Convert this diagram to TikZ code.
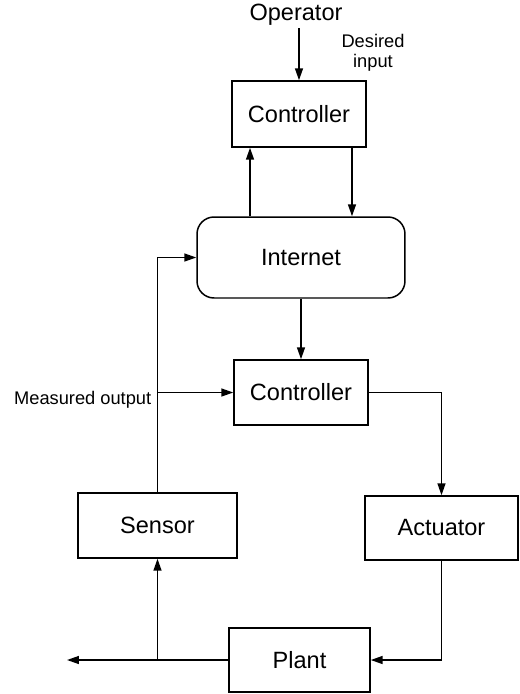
\documentclass[tikz,border=0pt]{standalone}
\usepackage{fontspec}
\setmainfont{Liberation Sans}
\usetikzlibrary{arrows.meta, positioning}

\begin{document}
\begin{tikzpicture}[x=0.02cm,y=-0.02cm,>={Triangle[length=2.4mm,width=1.6mm]},
  line width=0.85pt,
  block/.style={rectangle,draw,minimum width=2.68cm,minimum height=1.3cm,inner sep=0pt,
    font=\fontsize{13.4}{16}\selectfont},
  small text/.style={font=\fontsize{10.4}{11.4}\selectfont,inner sep=0pt}]

  \useasboundingbox (0,0) rectangle (520,694);

  \node[font=\fontsize{13.4}{16}\selectfont,inner sep=1pt] (op) at (296,15) {Operator};
  \node[small text,align=center] (desired) at (373,53) {Desired\\input};

  \node[block, minimum height=1.32cm] (ctrlA) at (299,114) {Controller};
  \node[block, rounded corners=0.34cm, minimum width=4.16cm, minimum height=1.62cm] (net) at (301,257.5) {Internet};
  \node[block] (ctrlB) at (301,392.5) {Controller};
  \node[block, minimum width=3.18cm] (sensor) at (157.5,525.5) {Sensor};
  \node[block, minimum width=3.06cm, minimum height=1.28cm] (act) at (441.5,528) {Actuator};
  \node[block, minimum width=2.82cm, minimum height=1.28cm] (plant) at (299.5,660) {Plant};

  \node[small text, anchor=east] (meas) at (152,400) {Measured output};
  \coordinate (out) at (67,660);

  \draw[->] (op.south -| ctrlA.north) -- (ctrlA.north);
  \draw[->] ([xshift=-1.02cm]net.north) -- ([xshift=-1.02cm]net.north |- ctrlA.south);
  \draw[->] ([xshift=1.06cm]ctrlA.south) -- ([xshift=1.06cm]ctrlA.south |- net.north);
  \draw[->] (net.south) -- (ctrlB.north);
  \draw[->] (ctrlB.east) -| (act.north);
  \draw[->] (act.south) |- (plant.east);
  \draw[->] (plant.west) -- (out);
  \draw[->] (plant.west -| sensor.south) -- (sensor.south);
  \draw[->] (sensor.north) |- (net.west);
  \draw[->] (sensor.north |- ctrlB.west) -- (ctrlB.west);
\end{tikzpicture}
\end{document}
